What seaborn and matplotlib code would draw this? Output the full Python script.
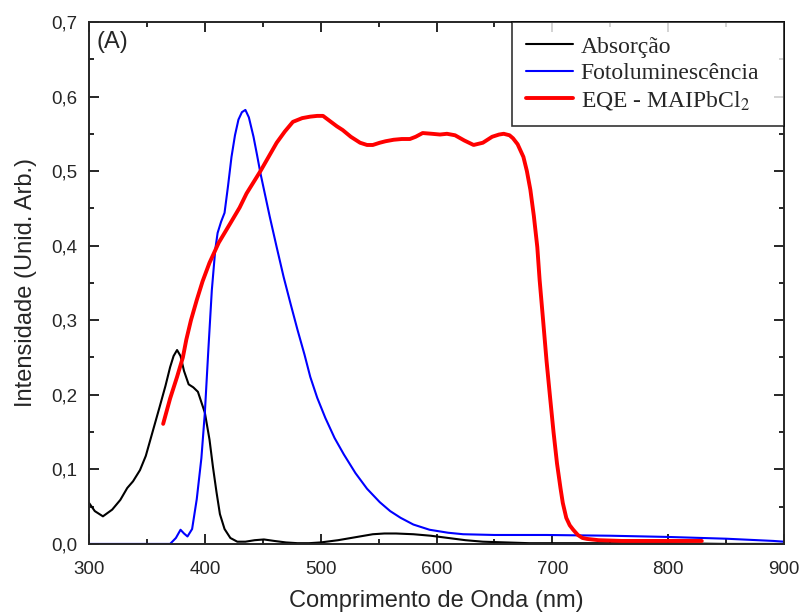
import numpy as np
import pandas as pd
import matplotlib
matplotlib.use("Agg")
import matplotlib.pyplot as plt
from matplotlib.ticker import MultipleLocator, FuncFormatter
import seaborn as sns

# absorption (black)
abs_x = [300, 305, 312, 320, 327, 333, 338, 344, 349, 353, 357, 361, 366, 370, 373, 376, 379, 382, 386, 390,
         394, 397, 400, 404, 407, 410, 413, 417, 422, 428, 435, 443, 451, 460, 470, 480, 490, 500, 515, 530,
         545, 555, 565, 580, 595, 610, 625, 640, 660, 680, 700, 750, 800, 850, 900]
abs_y = [0.055, 0.044, 0.037, 0.046, 0.059, 0.075, 0.084, 0.099, 0.118, 0.140, 0.162, 0.184, 0.212, 0.237, 0.252, 0.260, 0.252, 0.232, 0.214, 0.210,
         0.204, 0.190, 0.176, 0.140, 0.103, 0.070, 0.040, 0.020, 0.008, 0.003, 0.003, 0.005, 0.006, 0.004, 0.002, 0.001, 0.001, 0.002, 0.005, 0.009,
         0.013, 0.014, 0.014, 0.013, 0.011, 0.008, 0.005, 0.003, 0.002, 0.001, 0.001, 0.001, 0.001, 0.0, 0.0]

# photoluminescence (blue)
pl_x = [300, 340, 370, 375, 379, 382, 385, 389, 393, 397, 400, 403, 406, 409, 411, 414, 417, 420, 423, 426,
        429, 432, 435, 438, 442, 445, 448, 452, 456, 462, 468, 474, 480, 486, 491, 497, 504, 512, 520, 530,
        540, 551, 560, 569, 580, 594, 610, 623, 650, 695, 750, 799, 850, 891, 900]
pl_y = [0.0, 0.0, 0.0, 0.008, 0.019, 0.014, 0.010, 0.020, 0.060, 0.115, 0.176, 0.260, 0.340, 0.395, 0.417, 0.432, 0.444, 0.480, 0.519, 0.548,
        0.569, 0.579, 0.582, 0.572, 0.546, 0.522, 0.497, 0.468, 0.439, 0.398, 0.358, 0.322, 0.287, 0.254, 0.224, 0.196, 0.169, 0.142, 0.120, 0.095,
        0.074, 0.056, 0.044, 0.035, 0.026, 0.019, 0.015, 0.013, 0.012, 0.012, 0.011, 0.0094, 0.007, 0.004, 0.003]

# EQE (red)
eqe_x = [364, 370, 376, 381, 384, 388, 393, 398, 404, 412, 422, 430, 436, 442, 448, 455, 462, 469, 476, 484,
         491, 497, 502, 508, 514, 519, 526, 534, 540, 545, 551, 556, 563, 570, 577, 582, 588, 596, 603, 609,
         616, 624, 632, 640, 648, 654, 658, 663, 666, 670, 675, 678, 681, 684, 687, 689, 692, 695, 698, 701,
         704, 707, 709, 712, 715, 718, 722, 726, 730, 740, 760, 790, 829]
eqe_y = [0.161, 0.195, 0.224, 0.250, 0.274, 0.300, 0.327, 0.352, 0.377, 0.404, 0.430, 0.451, 0.470, 0.485, 0.500, 0.519, 0.538, 0.553, 0.566, 0.571,
         0.573, 0.574, 0.574, 0.567, 0.560, 0.555, 0.546, 0.538, 0.535, 0.535, 0.538, 0.540, 0.542, 0.543, 0.543, 0.546, 0.551, 0.550, 0.549, 0.550,
         0.548, 0.541, 0.535, 0.538, 0.546, 0.549, 0.550, 0.548, 0.544, 0.536, 0.519, 0.500, 0.475, 0.440, 0.398, 0.354, 0.300, 0.245, 0.197, 0.150,
         0.108, 0.075, 0.055, 0.035, 0.025, 0.019, 0.012, 0.008, 0.0067, 0.005, 0.004, 0.004, 0.004]

labels = ["Absorção", "Fotoluminescência", "EQE - MAIPbCl$_2$"]

sns.set_style("ticks")
plt.rcParams["font.family"] = ["Liberation Sans", "DejaVu Sans"]
plt.rcParams["mathtext.fontset"] = "stix"

fig = plt.figure(figsize=(8.02, 6.16), dpi=100)
ax = fig.add_axes([0.111, 0.117, 0.8666, 0.8474])

sns.lineplot(x=abs_x, y=abs_y, color="black", linewidth=1.5, label=labels[0], ax=ax)
sns.lineplot(x=pl_x, y=pl_y, color="#0000ff", linewidth=1.5, label=labels[1], ax=ax)
sns.lineplot(x=eqe_x, y=eqe_y, color="#ff0000", linewidth=2.8, label=labels[2], ax=ax)

ax.set_xlim(300, 900)
ax.set_ylim(0, 0.7)
ax.xaxis.set_major_locator(MultipleLocator(100))
ax.xaxis.set_minor_locator(MultipleLocator(50))
ax.yaxis.set_major_locator(MultipleLocator(0.1))
ax.yaxis.set_minor_locator(MultipleLocator(0.05))
ax.yaxis.set_major_formatter(FuncFormatter(lambda v, p: f"{v:.1f}".replace(".", ",")))
ax.tick_params(which="both", direction="in", top=True, right=True, width=1.4, labelsize=13.5)
ax.tick_params(which="major", length=7)
ax.tick_params(which="minor", length=3.6)
ax.tick_params(axis="x", pad=12)
ax.tick_params(axis="y", pad=8.5)
for s in ax.spines.values():
    s.set_linewidth(1.4)

ax.set_xlabel("Comprimento de Onda (nm)", fontsize=17, labelpad=9)
ax.set_ylabel("Intensidade (Unid. Arb.)", fontsize=17, labelpad=10)
ax.text(0.011, 0.982, "(A)", transform=ax.transAxes, fontsize=17, va="top", ha="left")

x0 = (512 - 89) / 695
leg = ax.legend(loc="upper left", bbox_to_anchor=(x0, 0.0, 1.0 - x0, 1.0), mode="expand", frameon=True,
                fancybox=False, prop={"family": "Liberation Serif", "size": 17}, borderaxespad=0,
                handlelength=2.0, handletextpad=0.3, labelspacing=0.2, borderpad=0.6)
leg.get_frame().set_edgecolor("black")
leg.get_frame().set_linewidth(1.2)

fig.savefig("out.png", dpi=100)
